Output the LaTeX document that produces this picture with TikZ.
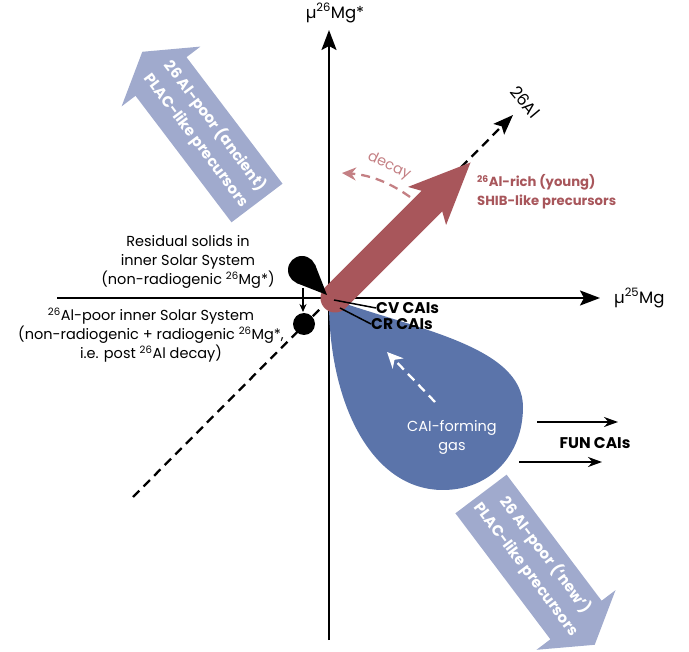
\documentclass[tikz,border=0pt]{standalone}
\usepackage{fontspec}
\setmainfont{Poppins}
\usetikzlibrary{
    arrows.meta,
    positioning
}

\definecolor{richred}{RGB}{168,86,91}
\definecolor{decayred}{RGB}{196,128,132}
\definecolor{gasblue}{RGB}{91,116,170}
\definecolor{poorblue}{RGB}{160,170,205}

\tikzset{
    axis/.style={line width=2.2pt,-{Stealth[length=20pt,width=15pt,inset=4pt]}},
    lbl/.style={font=\fontsize{14.5}{19}\selectfont,align=center,inner sep=0pt},
    biglbl/.style={lbl,font=\fontsize{16.5}{19}\selectfont},
    boldlbl/.style={lbl,font=\fontsize{13.2}{19}\selectfont\bfseries},
    caislbl/.style={lbl,font=\fontsize{15.5}{19}\selectfont\bfseries},
    poortxt/.style={lbl,text=white,font=\fontsize{15}{23.5}\selectfont\bfseries},
    dashline/.style={line width=2.3pt,dash pattern=on 9pt off 6pt}
}

\begin{document}
\begin{tikzpicture}[x=1pt,y=-1pt]

\useasboundingbox (0,0) rectangle (689,652);

\coordinate (o) at (329,298);

% 26Al-poor precursors (ancient and new)
\fill[poorblue]
(282.5,183.7) -- (186.5,57.2) -- (200.4,46.6) --
(142.3,51.8) -- (121.6,106.4) -- (135.5,95.8) --
(231.5,222.3) -- cycle;
\fill[poorblue]
(506.6,474.7) -- (601.6,600.7) -- (615.5,590.2) --
(594.7,644.8) -- (536.5,649.8) -- (550.4,639.3) --
(455.4,513.3) -- cycle;

\node[poortxt,rotate=-53] (ancient) at (206,133)
    {26 Al-poor (ancient)\\PLAC-like precursors};
\node[poortxt,rotate=-53] (new) at (536,562)
    {26 Al-poor (‘new’)\\PLAC-like precursors};

% Axes
\coordinate (ybot) at (329,640);
\coordinate (ytop) at (329,30);
\coordinate (xleft) at (57,298);
\coordinate (xright) at (600,298);
\draw[axis] (ybot) -- (ytop);
\draw[axis] (xleft) -- (xright);
\node[biglbl] (ylab) at (335,13) {µ\textsuperscript{26}Mg*};
\node[biglbl,anchor=west] (xlab) at (614,298) {µ\textsuperscript{25}Mg};

% 26Al direction
\coordinate (dlow) at (133,497);
\coordinate (dhigh) at (513,115);
\draw[dashline,-{Stealth[length=20pt,width=15pt,inset=4pt]}] (dlow) -- (dhigh);
\node[biglbl,rotate=-50] (allab) at (525,102) {26Al};

% CAI-forming gas
\fill[gasblue] (o)
.. controls (410,328) and (523,345) .. (523,407)
.. controls (523,455) and (490,490) .. (443,490)
.. controls (370,490) and (328,400) .. (o);
\coordinate (gstart) at (435,402);
\coordinate (gend) at (387,352);
\draw[dashline,white,-{Stealth[length=16pt,width=15pt]}] (gstart) -- (gend);
\node[lbl,text=white] (gas) at (452,437) {CAI-forming\\gas};

% 26Al-rich precursors
\draw[richred,line width=29pt,line cap=round] (335,298) -- (439,194);
\fill[richred] (408,186.9) -- (470.5,162.5) -- (446.1,225) -- (437.7,195.4) -- cycle;
\node[boldlbl,text=richred,anchor=west,align=left] (rich) at (477,192)
    {\textsuperscript{26}Al-rich (young)\\SHIB-like precursors};

% Decay
\coordinate (dstart) at (410,197);
\coordinate (dend) at (342,173);
\draw[dashline,decayred,-{Stealth[length=14pt,width=13pt]}]
(dstart) .. controls (392,184) and (372,175) .. (dend);
\node[lbl,text=decayred,rotate=-25] (decay) at (389,166) {decay};

% CV and CR CAIs
\node[caislbl,anchor=west] (cv) at (376,308) {CV CAIs};
\node[caislbl,anchor=west] (cr) at (371,324) {CR CAIs};
\draw[line width=1.5pt] (334,300) -- (cv.west);
\draw[line width=1.5pt] (340,308) -- (cr.west);

% FUN CAIs
\coordinate (funa) at (537,422);
\coordinate (funb) at (618,422);
\coordinate (func) at (519,462);
\coordinate (fund) at (602,462);
\draw[line width=2pt,-{Stealth[length=14pt,width=10pt]}] (funa) -- (funb);
\draw[line width=2pt,-{Stealth[length=14pt,width=10pt]}] (func) -- (fund);
\node[caislbl] (fun) at (595,443) {FUN CAIs};

% Residual solids and 26Al-poor inner Solar System
\fill (302,270) circle (14);
\fill (327,295) -- (296.4,283) -- (315,264.4) -- cycle;
\fill (304,324) circle (11);
\coordinate (rtop) at (303,288);
\coordinate (rbot) at (303,312);
\draw[line width=1.5pt,-{Stealth[length=8pt,width=7pt]}] (rtop) -- (rbot);

\node[lbl] (resid) at (188,262)
    {Residual solids in\\inner Solar System\\(non-radiogenic \textsuperscript{26}Mg*)};
\node[lbl] (poorss) at (151,335)
    {\textsuperscript{26}Al-poor inner Solar System\\(non-radiogenic + radiogenic \textsuperscript{26}Mg*,\\i.e. post \textsuperscript{26}Al decay)};

\end{tikzpicture}
\end{document}
